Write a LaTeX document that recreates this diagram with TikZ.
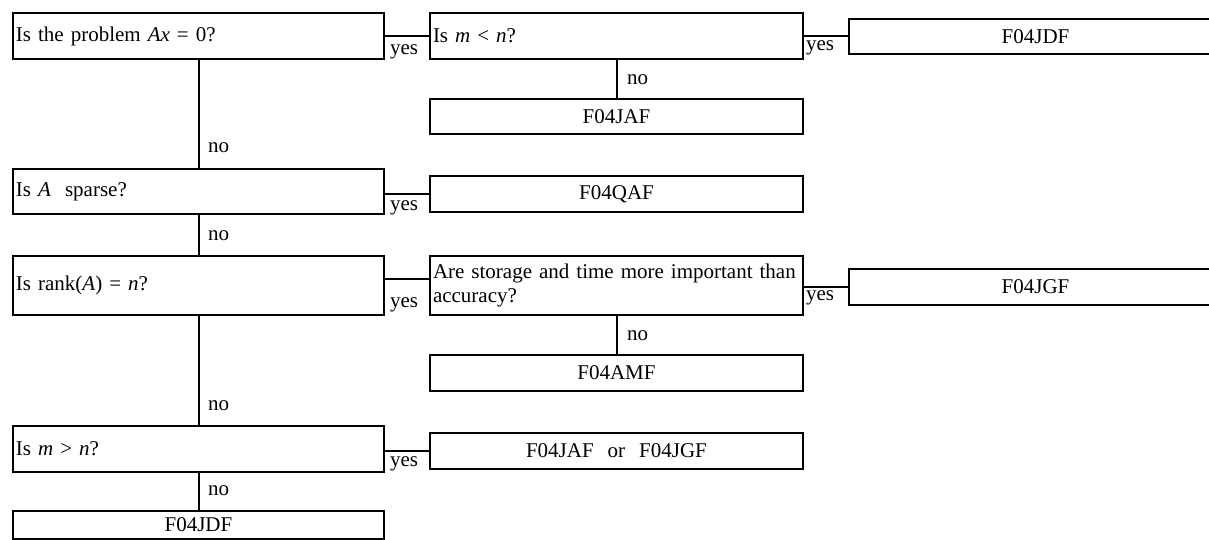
\documentclass[tikz,border=0pt]{standalone}
\usepackage{fontspec}
\setmainfont{Liberation Serif}
\newcommand\mv[1]{\textit{#1}}
\begin{document}
\begin{tikzpicture}[x=0.5pt,y=-0.5pt,line width=1pt,
  every node/.style={font=\fontsize{10.5}{12}\selectfont},
  qbox/.style={draw, anchor=north west, inner xsep=1.5pt, inner ysep=0pt, align=left},
  rbox/.style={draw, anchor=north west, inner xsep=1.5pt, inner ysep=0pt, align=center},
  lbl/.style={anchor=base west, inner sep=0pt},
  link/.style={draw, line width=1pt}]
\useasboundingbox (0,0) rectangle (1209,540);
\clip (0,0) rectangle (1209,540);

% left column: questions
\node[qbox, text width=182.5pt, minimum height=23pt] (q1) at (12,12) {Is the problem \mv{Ax}~=~0?};
\node[qbox, text width=182.5pt, minimum height=22.5pt] (q2) at (12,168) {Is \mv{A}~ sparse?};
\node[qbox, text width=182.5pt, minimum height=29.5pt] (q3) at (12,255) {Is rank(\mv{A})~=~\mv{n}?};
\node[qbox, text width=182.5pt, minimum height=23pt] (q4) at (12,425) {Is \mv{m}~>~\mv{n}?};
\node[rbox, text width=182.5pt, minimum height=14pt] (r7) at (12,510) {F04JDF};

% middle column
\node[qbox, text width=183.5pt, minimum height=23pt] (q5) at (429,12) {Is \mv{m}~<~\mv{n}?};
\node[rbox, text width=183.5pt, minimum height=17.5pt] (r2) at (429,98) {F04JAF};
\node[rbox, text width=183.5pt, minimum height=18pt] (r3) at (429,175) {F04QAF};
\node[qbox, text width=183.5pt, minimum height=29.5pt] (q6) at (429,255) {\mbox{Are storage and time more important than}\\accuracy?};
\node[rbox, text width=183.5pt, minimum height=18pt] (r5) at (429,354) {F04AMF};
\node[rbox, text width=183.5pt, minimum height=18pt] (r6) at (429,432) {F04JAF~ or~ F04JGF};

% right column
\node[rbox, text width=183.5pt, minimum height=17.5pt] (r1) at (848,18) {F04JDF};
\node[rbox, text width=183.5pt, minimum height=18pt] (r4) at (848,268) {F04JGF};

% connectors
\path[link] (q1.east) -- (q5.west);
\path[link] (q5.east |- r1.west) -- (r1.west);
\path[link] (q5.south) -- (r2.north);
\path[link] (q1.south) -- (q2.north);
\path[link] (q2.east |- r3.west) -- (r3.west);
\path[link] (q2.south) -- (q3.north);
\path[link] ([yshift=3.25pt]q3.east) -- ([yshift=3.25pt]q6.west);
\path[link] (q6.east |- r4.west) -- (r4.west);
\path[link] (q6.south) -- (r5.north);
\path[link] (q3.south) -- (q4.north);
\path[link] (q4.east |- r6.west) -- (r6.west);
\path[link] (q4.south) -- (r7.north);

% branch labels
\node[lbl] (y1) at (389,55) {yes};
\node[lbl] (y2) at (805,51) {yes};
\node[lbl] (y3) at (389,210) {yes};
\node[lbl] (y4) at (389,307) {yes};
\node[lbl] (y5) at (805,300) {yes};
\node[lbl] (y6) at (389,466) {yes};
\node[lbl] (n1) at (207,152) {no};
\node[lbl] (n2) at (626,85) {no};
\node[lbl] (n3) at (207,240) {no};
\node[lbl] (n4) at (626,340) {no};
\node[lbl] (n5) at (207,410) {no};
\node[lbl] (n6) at (207,495) {no};
\end{tikzpicture}
\end{document}
